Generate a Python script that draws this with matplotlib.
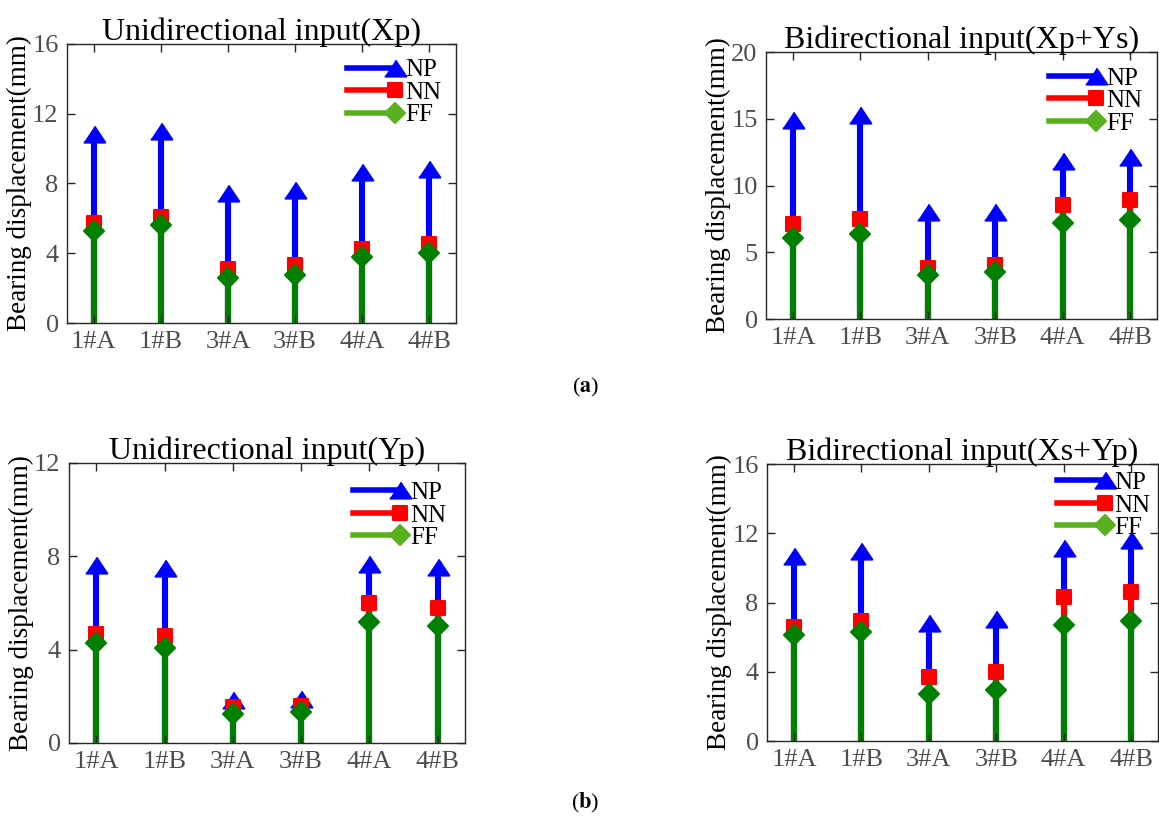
import numpy as np
import matplotlib
matplotlib.use("Agg")
import matplotlib.pyplot as plt
from matplotlib.lines import Line2D
from matplotlib.markers import MarkerStyle
from matplotlib.legend_handler import HandlerLine2D

plt.rcParams['font.family'] = ['Liberation Serif', 'DejaVu Serif']
plt.rcParams['mathtext.fontset'] = 'stix'

bearings = ["1#A", "1#B", "3#A", "3#B", "4#A", "4#B"]

# (a) unidirectional Xp
xp_np = [10.84, 11.0, 7.47, 7.6, 8.66, 8.85]
xp_nn = [5.73, 6.06, 3.08, 3.3, 4.26, 4.55]
xp_ff = [5.3, 5.62, 2.56, 2.75, 3.8, 4.0]

# (a) bidirectional Xp+Ys
xpys_np = [14.87, 15.3, 8.05, 8.05, 11.85, 12.15]
xpys_nn = [7.12, 7.5, 3.85, 4.02, 8.55, 8.93]
xpys_ff = [6.07, 6.4, 3.33, 3.55, 7.18, 7.43]

# (b) unidirectional Yp
yp_np = [7.64, 7.51, 1.84, 1.89, 7.69, 7.54]
yp_nn = [4.69, 4.57, 1.54, 1.57, 5.99, 5.77]
yp_ff = [4.3, 4.09, 1.26, 1.31, 5.2, 5.0]

# (b) bidirectional Xs+Yp
xsyp_np = [10.66, 11.0, 6.81, 7.03, 11.14, 11.6]
xsyp_nn = [6.56, 6.91, 3.69, 4.0, 8.32, 8.63]
xsyp_ff = [6.12, 6.31, 2.74, 2.93, 6.72, 6.93]

panels = [
    ("Unidirectional input(Xp)", xp_np, xp_nn, xp_ff, 16, [0, 4, 8, 12, 16]),
    ("Bidirectional input(Xp+Ys)", xpys_np, xpys_nn, xpys_ff, 20, [0, 5, 10, 15, 20]),
    ("Unidirectional input(Yp)", yp_np, yp_nn, yp_ff, 12, [0, 4, 8, 12]),
    ("Bidirectional input(Xs+Yp)", xsyp_np, xsyp_nn, xsyp_ff, 16, [0, 4, 8, 12, 16]),
]

# axes boxes in figure fractions (left, bottom, width, height)
boxes = [
    [0.0578, 0.6056, 0.3356, 0.3407],
    [0.6609, 0.6105, 0.3374, 0.3260],
    [0.0595, 0.0928, 0.3417, 0.3419],
    [0.6618, 0.0952, 0.3374, 0.3382],
]
legend_pads = [0.3, 0.3, 0.45, 0.0]

tri = MarkerStyle([(-1, -0.75), (1, -0.75), (0, 0.75)], joinstyle="round")
sq = MarkerStyle("s", joinstyle="round")
dia = MarkerStyle("D", joinstyle="round")
blue, red, green, lgreen = "#0000ff", "#ff0000", "#008000", "#58b01e"
series_style = [(blue, tri, 15.5), (red, sq, 10), (green, dia, 10.5)]


class EndMarker(HandlerLine2D):
    # line with the marker sitting on its right end, as MATLAB draws it
    def create_artists(self, legend, orig_handle, xdescent, ydescent,
                       width, height, fontsize, trans):
        y = (height - ydescent) / 2
        line = Line2D([-xdescent, -xdescent + width], [y, y])
        self.update_prop(line, orig_handle, legend)
        line.set_marker("None")
        mk = Line2D([-xdescent + width], [y])
        self.update_prop(mk, orig_handle, legend)
        mk.set_linestyle("None")
        line.set_transform(trans)
        mk.set_transform(trans)
        return [line, mk]


fig = plt.figure(figsize=(11.59, 8.19), dpi=100)
x = np.arange(1, len(bearings) + 1)

for (title, v_np, v_nn, v_ff, ymax, yt), box, lpad in zip(panels, boxes, legend_pads):
    ax = fig.add_axes(box)
    for vals, (col, mk, ms) in zip([v_np, v_nn, v_ff], series_style):
        ax.vlines(x, 0, vals, color=col, lw=4.4)
        ax.plot(x, vals, ls="none", marker=mk, ms=ms, color=col, mec=col, mew=1.5)
    ax.set_xlim(0.6, 6.4)
    ax.set_ylim(0, ymax)
    ax.set_xticks(x)
    ax.set_xticklabels(bearings)
    ax.set_yticks(yt)
    ax.set_axisbelow(False)
    ax.tick_params(direction="in", length=6, width=1, top=True, right=True,
                   labelsize=19, labelcolor="#4d4d4d", color="#262626", pad=6)
    for s in ax.spines.values():
        s.set_color("#262626")
        s.set_linewidth(1.0)
    ax.set_title(title, fontsize=23, pad=3)
    ax.set_ylabel("Bearing displacement(mm)", fontsize=19.5, labelpad=0)

    handles = [
        Line2D([], [], color=blue, lw=4, marker=tri, ms=15.5, mew=1.5),
        Line2D([], [], color=red, lw=4, marker=sq, ms=10, mew=1.5),
        Line2D([], [], color=lgreen, lw=4, marker=dia, ms=10.5, mew=1.5),
    ]
    ax.legend(handles, ["NP", "NN", "FF"], loc="upper right", frameon=False,
              fontsize=18, handlelength=1.9, handletextpad=0.4,
              labelspacing=0.0, borderaxespad=lpad, borderpad=0.3,
              handler_map={Line2D: EndMarker()})

fig.text(0.505, 0.527, r"($\mathbf{a}$)", fontsize=16, ha="center", va="center")
fig.text(0.505, 0.020, r"($\mathbf{b}$)", fontsize=16, ha="center", va="center")

fig.savefig("out.png", dpi=100)
